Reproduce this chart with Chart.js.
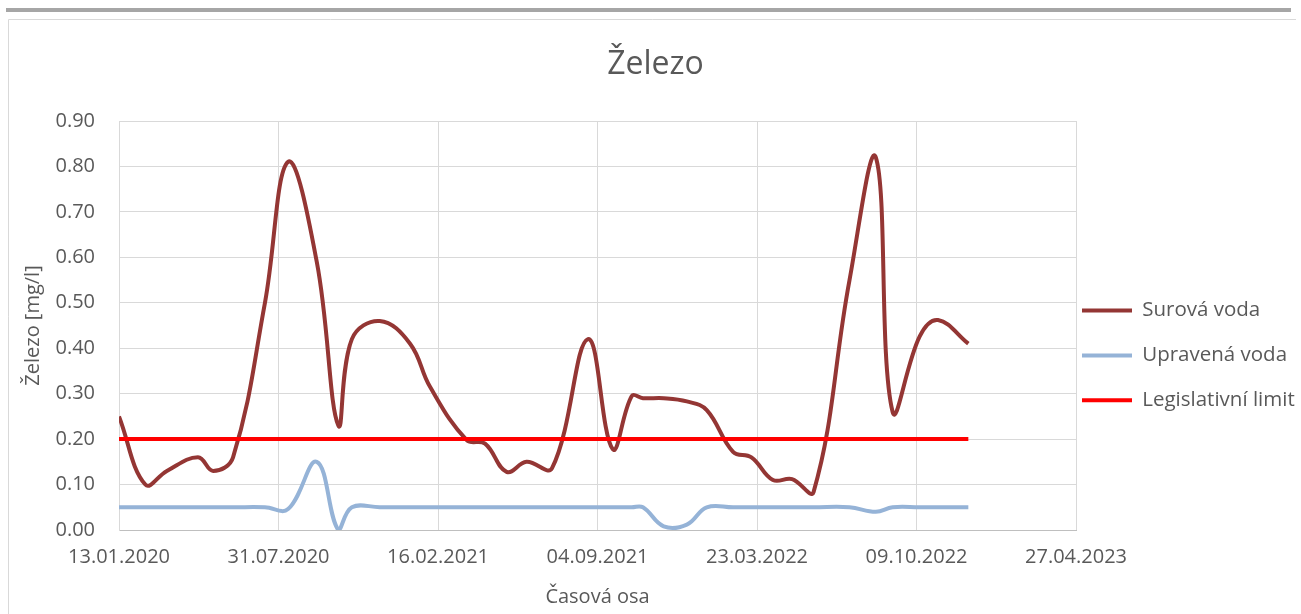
<!DOCTYPE html>
<html>
<head>
<meta charset="utf-8">
<script src="https://cdn.jsdelivr.net/npm/chart.js@4.4.1/dist/chart.umd.min.js"></script>
<style>
  html, body { margin: 0; padding: 0; background: #ffffff; }
  #wrap { position: absolute; left: 0; top: 0; width: 1301px; height: 614px; }
</style>
</head>
<body>
<div id="wrap"><canvas id="c" width="1301" height="614"></canvas></div>
<script>
// ---- data ----
const sampleDates = [
  '2020-01-13','2020-02-15','2020-03-13','2020-04-21','2020-05-10','2020-06-04','2020-07-14',
  '2020-08-12','2020-09-17','2020-10-14','2020-10-31','2020-12-05','2021-01-12','2021-02-06',
  '2021-03-24','2021-04-16','2021-05-13','2021-06-07','2021-07-09','2021-08-23','2021-09-23',
  '2021-10-17','2021-10-31','2021-11-26','2021-12-25','2022-01-19','2022-02-21','2022-03-16',
  '2022-04-12','2022-05-06','2022-06-02','2022-07-17','2022-08-19','2022-09-09','2022-10-13',
  '2022-11-05','2022-12-13'
];
const surovaVoda = [
  0.25, 0.10, 0.13, 0.16, 0.13, 0.16, 0.50,
  0.81, 0.59, 0.23, 0.42, 0.46, 0.41, 0.315,
  0.198, 0.19, 0.128, 0.15, 0.136, 0.42, 0.178,
  0.295, 0.29, 0.29, 0.283, 0.264, 0.172, 0.16,
  0.11, 0.112, 0.084, 0.55, 0.82, 0.26, 0.426,
  0.462, 0.41
];
const upravenaVoda = [
  0.05, 0.05, 0.05, 0.05, 0.05, 0.05, 0.05,
  0.046, 0.15, 0.00, 0.05, 0.05, 0.05, 0.05,
  0.05, 0.05, 0.05, 0.05, 0.05, 0.05, 0.05,
  0.05, 0.05, 0.008, 0.012, 0.05, 0.05, 0.05,
  0.05, 0.05, 0.05, 0.05, 0.04, 0.05, 0.05,
  0.05, 0.05
];
const limitDates = ['2020-01-13', '2022-12-13'];
const limitValues = [0.20, 0.20];

const seriesNames = ['Surová voda', 'Upravená voda', 'Legislativní limit'];
const xTickStart = '2020-01-13';
const xTickStepDays = 200;
const xTickCount = 7;
const yTicks = [0.0, 0.1, 0.2, 0.3, 0.4, 0.5, 0.6, 0.7, 0.8, 0.9];

// ---- helpers ----
function toUTC(s) { const p = s.split('-').map(Number); return Date.UTC(p[0], p[1] - 1, p[2]); }
const originMs = toUTC(xTickStart);
function dayOf(s) { return Math.round((toUTC(s) - originMs) / 86400000); }
function fmtDay(d) {
  const dt = new Date(originMs + d * 86400000);
  const dd = String(dt.getUTCDate()).padStart(2, '0');
  const mm = String(dt.getUTCMonth() + 1).padStart(2, '0');
  return dd + '.' + mm + '.' + dt.getUTCFullYear();
}
function pts(dates, vals) { return dates.map((d, i) => ({ x: dayOf(d), y: vals[i] })); }

const FONT = "'Open Sans', 'Noto Sans', sans-serif";
const TXT = '#595959';

const framePlugin = {
  id: 'frame',
  beforeDraw(chart) {
    const ctx = chart.ctx;
    ctx.save();
    ctx.fillStyle = '#a6a6a6';
    ctx.fillRect(6, 8, 1285, 4);
    ctx.strokeStyle = '#d9d9d9';
    ctx.lineWidth = 1;
    ctx.beginPath();
    ctx.moveTo(8.5, 614);
    ctx.lineTo(8.5, 19.5);
    ctx.lineTo(1296, 19.5);
    ctx.stroke();
    ctx.restore();
  }
};

new Chart(document.getElementById('c'), {
  type: 'line',
  data: {
    datasets: [
      { label: seriesNames[0], data: pts(sampleDates, surovaVoda), borderColor: '#943634', backgroundColor: '#943634', borderWidth: 4, tension: 0.4, pointRadius: 0, order: 3 },
      { label: seriesNames[1], data: pts(sampleDates, upravenaVoda), borderColor: '#95b3d7', backgroundColor: '#95b3d7', borderWidth: 4, tension: 0.4, pointRadius: 0, order: 2 },
      { label: seriesNames[2], data: pts(limitDates, limitValues), borderColor: '#ff0000', backgroundColor: '#ff0000', borderWidth: 4, tension: 0, pointRadius: 0, order: 1 }
    ]
  },
  plugins: [framePlugin],
  options: {
    responsive: false,
    animation: false,
    devicePixelRatio: 1,
    layout: { padding: { left: 10, top: 24, right: 0, bottom: 0 } },
    plugins: {
      tooltip: { enabled: false },
      title: {
        display: true, text: 'Železo', color: TXT,
        font: { family: FONT, size: 32, weight: 'normal' },
        padding: { top: 22, bottom: 36.6 }
      },
      legend: {
        position: 'right',
        fullSize: false,
        maxWidth: 225,
        align: 'center',
        title: { display: true, text: '', font: { size: 1 }, padding: { top: 39, bottom: 38 } },
        labels: {
          usePointStyle: true,
          pointStyle: 'line',
          pointStyleWidth: 50,
          boxHeight: 20,
          padding: 6,
          color: TXT,
          font: { family: FONT, size: 20.5, lineHeight: 1.9 },
          sort: (a, b) => a.datasetIndex - b.datasetIndex,
          generateLabels: (chart) => Chart.defaults.plugins.legend.labels.generateLabels(chart)
            .map(item => Object.assign({}, item, { text: [item.text] }))
        }
      }
    },
    scales: {
      x: {
        type: 'linear',
        min: 0,
        max: xTickStepDays * (xTickCount - 1),
        afterFit(s) { s.height = 84; },
        ticks: {
          stepSize: xTickStepDays,
          autoSkip: false,
          maxRotation: 0,
          padding: 15,
          color: TXT,
          font: { family: FONT, size: 20 },
          callback: (v) => fmtDay(v)
        },
        grid: { color: '#d9d9d9', lineWidth: 1, drawTicks: false },
        border: { display: true, color: '#bfbfbf', width: 1 },
        title: {
          display: true, text: 'Časová osa', color: TXT,
          font: { family: FONT, size: 20 },
          padding: { top: 0, bottom: 5 }
        }
      },
      y: {
        type: 'linear',
        min: yTicks[0],
        max: yTicks[yTicks.length - 1],
        afterFit(s) { s.width = 109; },
        afterBuildTicks(s) { s.ticks = yTicks.map(v => ({ value: v })); },
        ticks: {
          padding: 24,
          color: TXT,
          font: { family: FONT, size: 20 },
          callback: (v) => Number(v).toFixed(2)
        },
        grid: { color: '#d9d9d9', lineWidth: 1, drawTicks: false },
        border: { display: true, color: '#d9d9d9', width: 1 },
        title: {
          display: true, text: 'Železo [mg/l]', color: TXT,
          font: { family: FONT, size: 20 },
          padding: { top: 11, bottom: 0 }
        }
      }
    }
  }
});
</script>
</body>
</html>
